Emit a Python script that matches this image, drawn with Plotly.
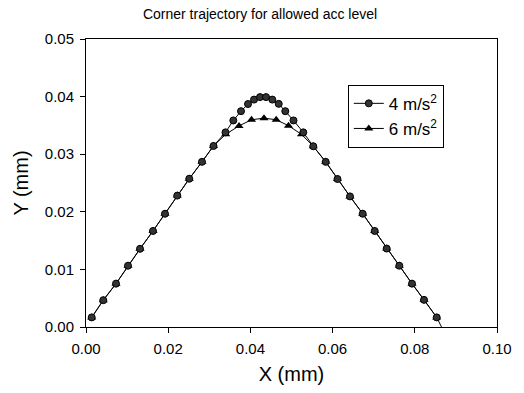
import plotly.graph_objects as go

# 4 m/s^2 series
x4 = [0.00139, 0.00421, 0.00730, 0.01022, 0.01314, 0.01630, 0.01922, 0.02221, 0.02513,
      0.02822, 0.03102, 0.03394, 0.03584, 0.03771, 0.03942, 0.04088, 0.04234, 0.04380,
      0.04533, 0.04689, 0.04849, 0.05049, 0.05287, 0.05530, 0.05832, 0.06119, 0.06423,
      0.06732, 0.07024, 0.07316, 0.07623, 0.07932, 0.08224, 0.08533]
y4 = [0.00167, 0.00466, 0.00753, 0.01064, 0.01357, 0.01667, 0.01966, 0.02281, 0.02574,
      0.02867, 0.03143, 0.03379, 0.03586, 0.03747, 0.03871, 0.03948, 0.03991, 0.03991,
      0.03948, 0.03874, 0.03747, 0.03586, 0.03379, 0.03138, 0.02867, 0.02569, 0.02267,
      0.01966, 0.01667, 0.01362, 0.01064, 0.00753, 0.00471, 0.00167]

# 6 m/s^2 series
x6 = [0.00139, 0.00421, 0.00730, 0.01022, 0.01314, 0.01630, 0.01922, 0.02221, 0.02513,
      0.02822, 0.03102, 0.03399, 0.03723, 0.04027, 0.04331, 0.04628, 0.04927, 0.05243,
      0.05530, 0.05832, 0.06119, 0.06423, 0.06732, 0.07024, 0.07316, 0.07623, 0.07932,
      0.08224, 0.08533]
y6 = [0.00167, 0.00466, 0.00753, 0.01064, 0.01357, 0.01667, 0.01966, 0.02281, 0.02574,
      0.02867, 0.03143, 0.03345, 0.03491, 0.03598, 0.03626, 0.03598, 0.03495, 0.03345,
      0.03138, 0.02867, 0.02569, 0.02267, 0.01966, 0.01667, 0.01362, 0.01064, 0.00753,
      0.00471, 0.00167]

# line tail to the axis (no marker)
x_tail = [0.08533, 0.0865]
y_tail = [0.00167, 0.0]

xticks = [0.00, 0.02, 0.04, 0.06, 0.08, 0.10]
yticks = [0.00, 0.01, 0.02, 0.03, 0.04, 0.05]

fig = go.Figure()
fig.add_trace(go.Scatter(x=x_tail, y=y_tail, mode="lines", line=dict(color="black", width=1),
                         showlegend=False, hoverinfo="skip"))
fig.add_trace(go.Scatter(x=x6, y=y6, mode="lines+markers", name="6 m/s<sup>2</sup>",
                         line=dict(color="black", width=1),
                         marker=dict(symbol="triangle-up", size=8, color="black")))
fig.add_trace(go.Scatter(x=x4, y=y4, mode="lines+markers", name="4 m/s<sup>2</sup>",
                         line=dict(color="black", width=1),
                         marker=dict(symbol="circle", size=7, color="#333333",
                                     line=dict(color="black", width=1))))

font = "Liberation Sans, Arial, sans-serif"
fig.update_layout(
    width=524, height=393,
    margin=dict(l=86, r=27, t=39, b=64),
    paper_bgcolor="white", plot_bgcolor="white",
    font=dict(family=font, color="black", size=15),
    title=dict(text="Corner trajectory for allowed acc level", x=260 / 524, xanchor="center",
               y=1 - 14 / 393, yanchor="middle", font=dict(size=14)),
    legend=dict(x=0.637, y=0.841, xanchor="left", yanchor="top", traceorder="reversed",
                bordercolor="black", borderwidth=1, bgcolor="white", font=dict(size=17),
                itemwidth=30, tracegroupgap=0),
    showlegend=True,
)
fig.update_xaxes(range=[0, 0.10], tickvals=xticks, ticktext=[f"{v:.2f}" for v in xticks],
                 showgrid=False, zeroline=False, showline=True, linecolor="black", linewidth=1,
                 mirror=True, ticks="outside", ticklen=5, tickcolor="black", ticklabelstandoff=3,
                 title=dict(text="X (mm)", font=dict(size=20), standoff=10))
fig.update_yaxes(range=[0, 0.05], tickvals=yticks, ticktext=[f"{v:.2f}" for v in yticks],
                 showgrid=False, zeroline=False, showline=True, linecolor="black", linewidth=1,
                 mirror=True, ticks="outside", ticklen=5, tickcolor="black", ticklabelstandoff=3,
                 title=dict(text="Y (mm)", font=dict(size=20), standoff=10))

fig.write_html("out.html")
